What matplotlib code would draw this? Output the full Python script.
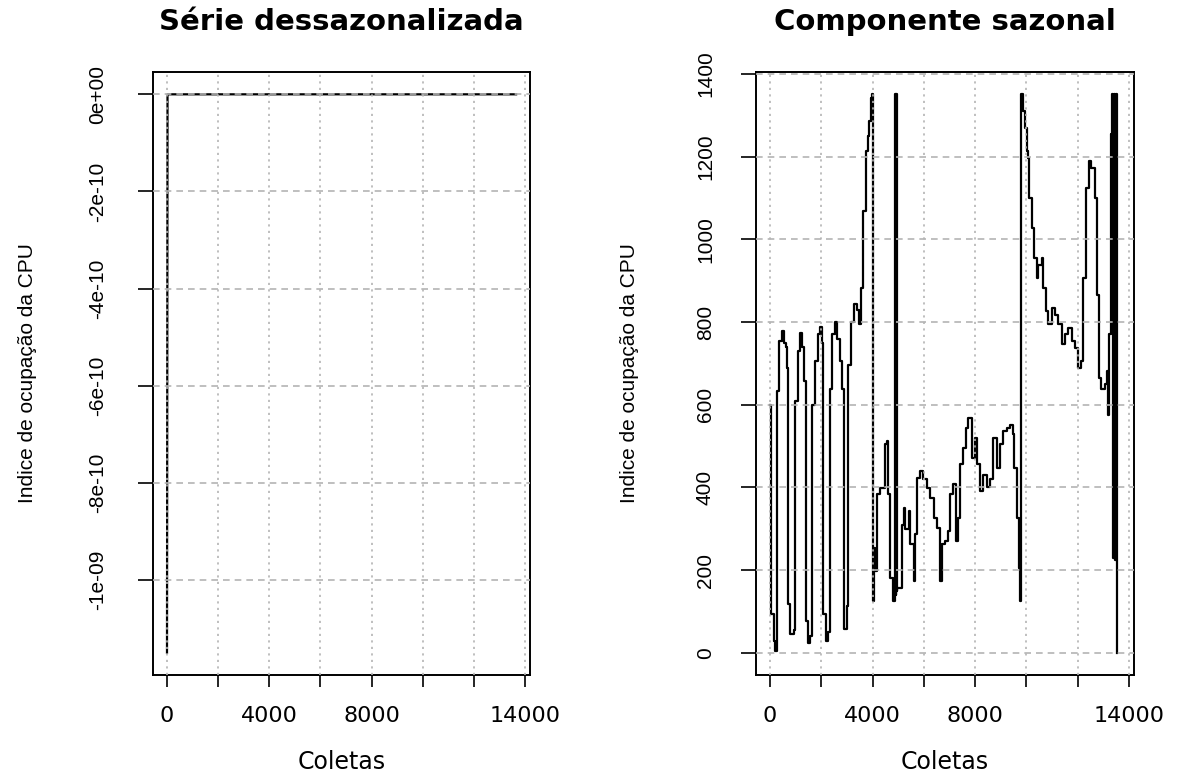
import matplotlib
matplotlib.use('Agg')
from matplotlib import pyplot as plt

# serie dessazonalizada: ~0 except a single dip at the start
n_coletas = 13650
dess_x = [0, 20, n_coletas]
dess_y = [-1.15e-9, 0.0, 0.0]

# componente sazonal (step-like series)
saz_x = [0, 39, 168, 207, 272, 363, 454, 532, 622, 661, 713, 791, 920, 985, 1076,
         1180, 1245, 1335, 1400, 1465, 1569, 1634, 1750, 1854, 1958, 2048, 2087, 2178,
         2269, 2347, 2437, 2541, 2632, 2735, 2826, 2891, 2995, 3047, 3176, 3280, 3410,
         3474, 3539, 3643, 3734, 3824, 3863, 3928, 3993, 4010, 4020, 4032, 4045, 4110,
         4175, 4304, 4499, 4563, 4602, 4693, 4797, 4887, 4905, 4920, 4940, 4955, 4970,
         5017, 5147, 5212, 5277, 5406, 5471, 5601, 5665, 5730, 5860, 5951, 6119, 6249,
         6379, 6508, 6612, 6703, 6832, 6962, 7027, 7157, 7260, 7351, 7416, 7520, 7649,
         7740, 7870, 8000, 8064, 8194, 8324, 8480, 8583, 8713, 8842, 8972, 9102, 9231,
         9361, 9465, 9517, 9620, 9698, 9763, 9789, 9880, 9945, 10010, 10075, 10114,
         10205, 10308, 10399, 10464, 10594, 10659, 10762, 10853, 10983, 11113, 11242,
         11372, 11502, 11631, 11761, 11890, 12020, 12111, 12215, 12344, 12448, 12539,
         12669, 12759, 12837, 12928, 13058, 13148, 13187, 13226, 13291, 13356, 13395,
         13430, 13470, 13500, 13522]
saz_y = [600, 93, 28, 5, 633, 754, 778, 750, 740, 689, 117, 45, 55, 609, 730,
         774, 740, 657, 77, 24, 40, 600, 705, 770, 787, 750, 93, 28,
         50, 637, 770, 800, 760, 705, 637, 57, 113, 697, 800, 843, 830,
         795, 882, 1068, 1213, 1250, 1286, 1342, 1351, 300, 1351, 125, 253, 198,
         383, 398, 504, 512, 383, 180, 125, 1351, 140, 1351, 150, 1340, 156,
         156, 310, 350, 300, 343, 262, 173, 286, 422, 440, 420, 398, 374,
         326, 302, 173, 262, 270, 294, 383, 407, 270, 326, 456, 495, 543,
         567, 470, 519, 456, 391, 431, 400, 420, 519, 447, 504, 536, 543,
         552, 530, 447, 326, 205, 125, 1351, 1310, 1270, 1213, 1197, 1100,
         1028, 955, 906, 939, 955, 882, 826, 795, 834, 818, 795,
         746, 770, 786, 754, 738, 689, 705, 906, 1124, 1189, 1173,
         1100, 866, 665, 637, 649, 681, 576, 770, 1254, 1351, 230,
         1351, 225, 1351, 0]

x_ticks = [0, 2000, 4000, 6000, 8000, 10000, 12000, 14000]
x_labels = ['0', '', '4000', '', '8000', '', '', '14000']
dess_yticks = [0, -2e-10, -4e-10, -6e-10, -8e-10, -1e-9]
dess_ylabels = ['0e+00', '-2e-10', '-4e-10', '-6e-10', '-8e-10', '-1e-09']
saz_yticks = [0, 200, 400, 600, 800, 1000, 1200, 1400]
saz_ylabels = ['0', '200', '400', '600', '800', '1000', '1200', '1400']

titulos = ['Série dessazonalizada', 'Componente sazonal']

fig = plt.figure(figsize=(11.79, 7.74), dpi=100)
ax1 = fig.add_axes([0.1298, 0.1279, 0.3198, 0.7791])
ax2 = fig.add_axes([0.6412, 0.1279, 0.3206, 0.7791])

ax1.plot(dess_x, dess_y, color='black', lw=1.6)
ax2.plot(saz_x, saz_y, color='black', lw=1.6, drawstyle='steps-post')

paineis = [(ax1, dess_yticks, dess_ylabels, 41), (ax2, saz_yticks, saz_ylabels, 36)]
for i, (ax, yt, yl, ypad) in enumerate(paineis):
    ax.set_xlim(-0.04 * n_coletas, 1.04 * n_coletas)
    ax.margins(y=0.04)
    # tick look first, then the labels (so label fonts are kept)
    ax.tick_params(axis='x', length=8.5, width=1.2, pad=14, labelsize=16)
    ax.tick_params(axis='y', length=10.5, width=1.2, pad=ypad * 0.72, labelsize=15)
    ax.set_xticks(x_ticks)
    ax.set_xticklabels(x_labels, fontsize=16, family='DejaVu Sans')
    ax.set_yticks(yt)
    ax.set_yticklabels(yl, fontsize=15, family='Liberation Sans', rotation=90,
                       ha='center', va='center')
    for s in ax.spines.values():
        s.set_linewidth(1.4)
    # grid drawn on top of the data, like R's grid()
    ax.set_axisbelow(False)
    for xv in x_ticks:
        ax.axvline(xv, color='#b4b4b4', lw=1.2, dashes=(1.3, 2.6), zorder=3)
    for yv in yt:
        ax.axhline(yv, color='#b4b4b4', lw=1.2, dashes=(4, 3), zorder=3)
    ax.set_xlabel('Coletas', fontsize=17, family='DejaVu Sans', va='center')
    ax.xaxis.set_label_coords(0.5, -0.144)
    ax.set_ylabel('Indice de ocupação da CPU', fontsize=15, family='Liberation Sans',
                  va='center')
    ax.yaxis.set_label_coords(-0.334, 0.5)
    ax.set_title(titulos[i], fontsize=21, fontweight='bold', family='DejaVu Sans',
                 y=1.083, va='center', pad=0)

fig.savefig('out.png', dpi=100)
